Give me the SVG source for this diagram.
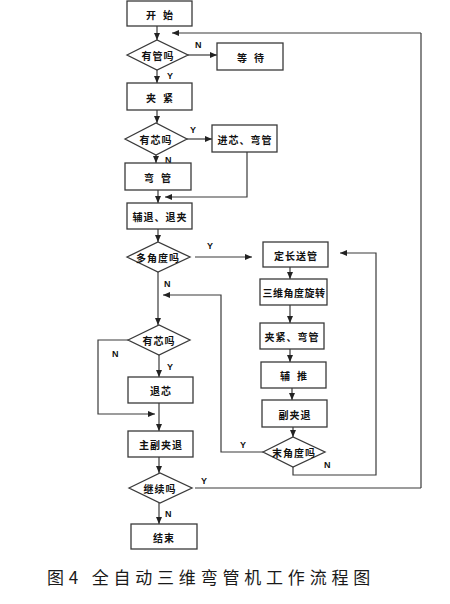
<svg xmlns="http://www.w3.org/2000/svg" width="450" height="604" viewBox="0 0 450 604">
<style>
.n{fill:#fff;stroke:#3a3a3a;stroke-width:1.3}
.t{font-family:"Noto Sans CJK SC","Noto Sans CJK JP",sans-serif;font-size:10px;font-weight:bold;fill:#111;text-anchor:middle;dominant-baseline:central;letter-spacing:1px}
.w{letter-spacing:7px}
.l{font-family:"Liberation Sans",Arial,sans-serif;font-size:9px;font-weight:bold;fill:#111}
.c{fill:none;stroke:#3a3a3a;stroke-width:1.2}
.a{marker-end:url(#ah)}
.cap{font-family:"Noto Sans CJK SC",sans-serif;font-size:17px;fill:#1a1a1a;letter-spacing:4.8px}
</style>
<defs>
<marker id="ah" markerUnits="userSpaceOnUse" markerWidth="7" markerHeight="6" refX="7" refY="3" orient="auto">
<path d="M0,0 L7,3 L0,6 z" fill="#222"/>
</marker>
</defs>
<g id="connectors">
<path class="c a" d="M157,26 V40"/>
<path class="c" d="M421,33 V488"/>
<path class="c a" d="M421,33 H172"/>
<path class="c a" d="M188,55 H217"/>
<path class="c a" d="M157,70 V83"/>
<path class="c a" d="M157,110 V123"/>
<path class="c a" d="M187,139 H212"/>
<path class="c a" d="M156,155 V163"/>
<path class="c a" d="M247,152 V197 H165"/>
<path class="c a" d="M158,190 V203"/>
<path class="c a" d="M158,229 V242"/>
<path class="c a" d="M195,257 H252"/>
<path class="c a" d="M158,272 V325"/>
<path class="c a" d="M290,267 V279"/>
<path class="c a" d="M290,305 V323"/>
<path class="c a" d="M290,349 V362"/>
<path class="c a" d="M292,388 V400"/>
<path class="c a" d="M293,427 V437"/>
<path class="c a" d="M263,452 H221 V295 H163"/>
<path class="c a" d="M293,467 V475 H376 V253 H340"/>
<path class="c a" d="M128,340 H98 V414 H155"/>
<path class="c a" d="M159,355 V377"/>
<path class="c a" d="M159,403 V431"/>
<path class="c a" d="M159,457 V473"/>
<path class="c" d="M195,488 H421"/>
<path class="c a" d="M159,503 V524"/>
<text class="l" x="195" y="48">N</text>
<text class="l" x="167" y="79">Y</text>
<text class="l" x="190" y="133">Y</text>
<text class="l" x="165" y="163">N</text>
<text class="l" x="207" y="249">Y</text>
<text class="l" x="164" y="287">N</text>
<text class="l" x="112" y="357">N</text>
<text class="l" x="167" y="370">Y</text>
<text class="l" x="240" y="448">Y</text>
<text class="l" x="324" y="468">N</text>
<text class="l" x="201" y="484">Y</text>
<text class="l" x="165" y="517">N</text>
</g>
<g id="start"><rect class="n" x="127" y="1" width="65" height="25"/><text class="t w" x="163" y="14">开始</text></g>
<g id="has-tube"><polygon class="n" points="127,55 157,40 188,55 157,70"/><text class="t" x="158" y="55">有管吗</text></g>
<g id="wait"><rect class="n" x="217" y="43" width="66" height="27"/><text class="t w" x="254" y="57">等待</text></g>
<g id="clamp"><rect class="n" x="127" y="83" width="65" height="27"/><text class="t w" x="163" y="97">夹紧</text></g>
<g id="has-core"><polygon class="n" points="125,139 156,123 187,139 156,155"/><text class="t" x="156" y="139">有芯吗</text></g>
<g id="core-bend"><rect class="n" x="212" y="125" width="65" height="27"/><text class="t" x="245" y="139">进芯、弯管</text></g>
<g id="bend"><rect class="n" x="125" y="163" width="66" height="27"/><text class="t w" x="161" y="177">弯管</text></g>
<g id="aux-retract"><rect class="n" x="127" y="203" width="65" height="26"/><text class="t" x="160" y="216">辅退、退夹</text></g>
<g id="multi-angle"><polygon class="n" points="127,257 158,242 190,257 158,272"/><text class="t" x="158" y="257">多角度吗</text></g>
<g id="feed"><rect class="n" x="263" y="242" width="65" height="25"/><text class="t" x="296" y="255">定长送管</text></g>
<g id="rotate"><rect class="n" x="260" y="279" width="67" height="26"/><text class="t" x="294" y="292" style="letter-spacing:0.5px">三维角度旋转</text></g>
<g id="clamp-bend"><rect class="n" x="260" y="323" width="64" height="26"/><text class="t" x="292" y="336">夹紧、弯管</text></g>
<g id="aux-push"><rect class="n" x="261" y="362" width="65" height="26"/><text class="t w" x="297" y="375">辅推</text></g>
<g id="sub-clamp-retract"><rect class="n" x="262" y="400" width="65" height="27"/><text class="t" x="295" y="414">副夹退</text></g>
<g id="last-angle"><polygon class="n" points="263,452 293,437 325,452 293,467"/><text class="t" x="294" y="452">末角度吗</text></g>
<g id="has-core-2"><polygon class="n" points="128,340 159,325 190,340 159,355"/><text class="t" x="159" y="340">有芯吗</text></g>
<g id="core-retract"><rect class="n" x="128" y="377" width="65" height="26"/><text class="t" x="161" y="390">退芯</text></g>
<g id="main-sub-retract"><rect class="n" x="128" y="431" width="65" height="26"/><text class="t" x="161" y="444">主副夹退</text></g>
<g id="continue"><polygon class="n" points="129,488 160,473 192,488 160,503"/><text class="t" x="160" y="488">继续吗</text></g>
<g id="end"><rect class="n" x="131" y="524" width="66" height="25"/><text class="t" x="164" y="537">结束</text></g>
<text class="cap" x="47" y="584">图4 全自动三维弯管机工作流程图</text>
</svg>
